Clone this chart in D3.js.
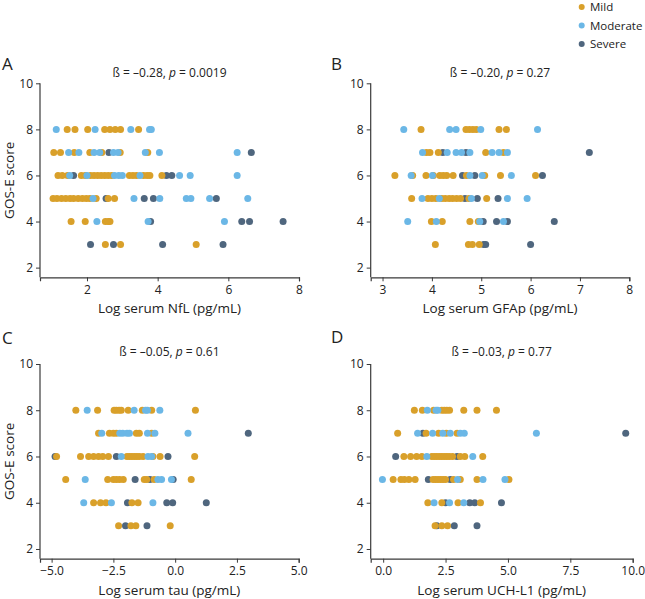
<!DOCTYPE html>
<html><head><meta charset="utf-8">
<script src="https://cdn.jsdelivr.net/npm/d3@7"></script>
<style>
body{margin:0;background:#fff;}
svg{font-family:"Open Sans","Noto Sans",sans-serif;}
</style></head>
<body><svg id="c" width="645" height="599"></svg>
<script>
// ---------- data: [log value, GOS-E score] ----------
const severities = ["Mild", "Moderate", "Severe"];
const sevColors = ["#D9A02A", "#6BB7E6", "#4F667E"];
const gosTicks = [2, 4, 6, 8, 10];

const nflMild = [[1.44,8],[1.66,8],[2.02,8],[2.5,8],[2.65,8],[2.8,8],[2.95,8],[3.46,8],
 [1.06,7],[1.25,7],[1.64,7],[2.08,7],[2.42,7],[2.94,7],[3.72,7],
 [1.18,6],[1.3,6],[1.45,6],[1.84,6],[1.95,6],[2.1,6],[2.2,6],[2.3,6],[2.4,6],[2.5,6],[2.6,6],[2.7,6],[3.2,6],[3.3,6],[3.4,6],[3.6,6],[3.7,6],[3.78,6],[4.12,6],
 [1.04,5],[1.15,5],[1.28,5],[1.4,5],[1.52,5],[1.62,5],[1.75,5],[1.87,5],[1.98,5],[2.08,5],[2.26,5],[2.6,5],[2.78,5],
 [1.55,4],[1.95,4],[2.52,4],[2.6,4],[2.65,4],
 [2.52,3],[2.95,3],[5.09,3]];
const nflModerate = [[1.13,8],[2.23,8],[3.24,8],[3.77,8],[3.82,8],
 [1.48,7],[1.77,7],[2.2,7],[2.36,7],[2.75,7],[2.88,7],[3.65,7],[4.05,7],[6.25,7],
 [1.51,6],[2.0,6],[2.78,6],[2.9,6],[3.0,6],[3.5,6],[4.62,6],[4.92,6],[6.25,6],
 [2.17,5],[3.33,5],[4.06,5],[4.81,5],[4.94,5],[5.47,5],[6.55,5],
 [2.28,4],[3.73,4],[5.89,4]];
const nflSevere = [[2.62,7],[6.65,7],[1.62,6],[4.25,6],[4.4,6],
 [2.54,5],[3.62,5],[3.88,5],[5.66,5],[3.8,4],[6.38,4],[6.6,4],[7.55,4],
 [2.1,3],[2.75,3],[4.14,3],[5.85,3]];

const gfapMild = [[3.78,8],[4.69,8],[4.76,8],[4.83,8],[4.9,8],[5.36,8],[5.51,8],
 [3.89,7],[3.96,7],[4.13,7],[5.09,7],[5.45,7],
 [3.25,6],[3.61,6],[3.88,6],[4.03,6],[4.16,6],[4.23,6],[4.3,6],[4.43,6],[4.7,6],[5.07,6],[5.39,6],[6.1,6],
 [3.59,5],[3.92,5],[4.0,5],[4.08,5],[4.2,5],[4.27,5],[4.35,5],[4.42,5],[4.5,5],[4.58,5],[4.75,5],[5.11,5],
 [3.99,4],[4.21,4],[4.77,4],[4.94,4],
 [4.07,3],[4.74,3],[4.82,3],[4.96,3]];
const gfapModerate = [[3.43,8],[4.36,8],[4.49,8],[4.99,8],[6.14,8],
 [3.81,7],[4.31,7],[4.49,7],[4.6,7],[4.77,7],[5.22,7],[5.36,7],[5.53,7],
 [3.58,6],[4.01,6],[4.77,6],[5.02,6],[5.61,6],
 [3.8,5],[4.15,5],[4.8,5],[5.53,5],[5.93,5],
 [3.51,4],[4.09,4],[4.97,4],[5.45,4]];
const gfapSevere = [[4.22,7],[4.69,7],[7.19,7],[4.62,6],[4.87,6],[6.24,6],
 [4.67,5],[4.92,5],[5.34,5],[5.04,4],[5.31,4],[5.53,4],[6.48,4],
 [5.05,3],[5.09,3],[6.0,3]];

const tauMild = [[-4.02,8],[-3.14,8],[-2.47,8],[-2.38,8],[-2.27,8],[-2.18,8],[-1.9,8],[-1.33,8],[-0.95,8],[0.82,8],
 [-3.1,7],[-2.66,7],[-2.5,7],[-2.38,7],[-1.57,7],[-1.45,7],[-0.95,7],
 [-4.8,6],[-3.83,6],[-3.5,6],[-3.3,6],[-3.1,6],[-2.93,6],[-2.7,6],[-1.95,6],[-1.85,6],[-1.75,6],[-1.65,6],[-1.55,6],[-1.45,6],[-1.3,6],[-0.9,6],[-0.61,6],[0.79,6],
 [-4.43,5],[-2.73,5],[-2.5,5],[-2.38,5],[-2.25,5],[-2.1,5],[-1.25,5],[-1.15,5],[-0.85,5],[0.65,5],
 [-3.3,4],[-3.02,4],[-2.8,4],[-1.75,4],[-1.5,4],
 [-2.29,3],[-1.79,3],[-1.59,3],[-0.2,3]];
const tauModerate = [[-3.56,8],[-1.66,8],[-1.2,8],[-1.12,8],[-0.62,8],
 [-2.97,7],[-2.24,7],[-2.12,7],[-1.95,7],[-1.85,7],[-1.12,7],[-0.82,7],[0.52,7],
 [-2.18,6],[-1.1,6],[-0.95,6],
 [-3.64,5],[-0.7,5],[-0.55,5],[-0.15,5],
 [-3.7,4],[-2.58,4],[-0.9,4]];
const tauSevere = [[2.96,7],[-4.86,6],[-2.38,6],[-0.29,6],[-1.62,5],[-1.02,5],[-0.08,5],
 [-1.93,4],[-0.34,4],[-0.1,4],[1.26,4],[-2.01,3],[-1.14,3]];

const uchMild = [[1.25,8],[1.57,8],[2.02,8],[2.35,8],[2.45,8],[2.55,8],[2.66,8],[3.23,8],[3.76,8],[4.54,8],
 [0.58,7],[1.72,7],[2.22,7],[2.53,7],[2.96,7],
 [0.83,6],[1.1,6],[1.34,6],[1.55,6],[1.95,6],[2.05,6],[2.15,6],[2.25,6],[2.35,6],[2.45,6],[2.55,6],[2.65,6],[2.78,6],[3.09,6],[3.27,6],[3.99,6],
 [0.4,5],[0.71,5],[0.85,5],[1.03,5],[1.28,5],[2.0,5],[2.1,5],[2.2,5],[2.3,5],[2.4,5],[2.5,5],[2.82,5],[3.09,5],[3.76,5],[5.04,5],
 [1.79,4],[2.35,4],[3.0,4],[3.9,4],
 [2.08,3],[2.35,3],[2.58,3]];
const uchModerate = [[1.77,8],[2.12,8],[2.19,8],
 [1.38,7],[1.98,7],[2.39,7],[2.69,7],[3.09,7],[3.25,7],[6.14,7],
 [1.75,6],[3.59,6],
 [-0.03,5],[2.98,5],[4.0,5],[4.88,5],
 [2.04,4],[2.66,4],[3.23,4]];
const uchSevere = [[1.59,7],[9.72,7],[0.5,6],[2.96,6],[1.81,5],[2.69,5],
 [2.5,4],[3.47,4],[3.67,4],[4.74,4],[2.15,3],[2.85,3],[3.76,3]];

const panelLetters = ["A", "B", "C", "D"];
const xLabels = ["Log serum NfL (pg/mL)", "Log serum GFAp (pg/mL)", "Log serum tau (pg/mL)", "Log serum UCH-L1 (pg/mL)"];
const betas = ["–0.28", "–0.20", "–0.05", "–0.03"];
const pValues = ["0.0019", "0.27", "0.61", "0.77"];
const xTicksA = [2, 4, 6, 8];
const xTicksB = [3, 4, 5, 6, 7, 8];
const xTicksC = [-5, -2.5, 0, 2.5, 5];
const xTicksD = [0, 2.5, 5, 7.5, 10];

// ---------- layout ----------
const svg = d3.select("#c");
const layouts = [
  {left: 40, right: 299, top: 83.3, bottom: 277.3, xDom: [0.67, 8], ticks: xTicksA, fmt: d3.format("d"), data: [nflMild, nflModerate, nflSevere], lx: 2, ly: 70, ty: 77},
  {left: 370.7, right: 629.3, top: 83.3, bottom: 277.3, xDom: [2.76, 8], ticks: xTicksB, fmt: d3.format("d"), data: [gfapMild, gfapModerate, gfapSevere], lx: 331, ly: 70, ty: 77},
  {left: 40, right: 298.7, top: 364, bottom: 558.7, xDom: [-5.47, 5], ticks: xTicksC, fmt: d3.format(".1f"), data: [tauMild, tauModerate, tauSevere], lx: 2, ly: 344, ty: 356},
  {left: 370.7, right: 632.7, top: 364, bottom: 558.7, xDom: [-0.5, 10], ticks: xTicksD, fmt: d3.format(".1f"), data: [uchMild, uchModerate, uchSevere], lx: 331, ly: 343, ty: 356}
];
const axisColor = "#3a3a3a";
const textColor = "#222";

layouts.forEach((L, i) => {
  const x = d3.scaleLinear().domain(L.xDom).range([L.left, L.right]);
  const y = d3.scaleLinear().domain([1.58, 10]).range([L.bottom, L.top]);
  const g = svg.append("g");

  const xa = g.append("g").attr("transform", `translate(0,${L.bottom})`)
    .call(d3.axisBottom(x).tickValues(L.ticks).tickFormat(L.fmt).tickSizeOuter(0).tickSize(4).tickPadding(4));
  const ya = g.append("g").attr("transform", `translate(${L.left},0)`)
    .call(d3.axisLeft(y).tickValues(gosTicks).tickSizeOuter(0).tickSize(4).tickPadding(3));
  [xa, ya].forEach(a => {
    a.select(".domain").attr("stroke", axisColor).attr("stroke-width", 1.2);
    a.selectAll(".tick line").attr("stroke", axisColor).attr("stroke-width", 1);
    a.selectAll(".tick text").attr("fill", textColor).style("font-size", "12px").style("font-family", "'Open Sans'");
  });
  ya.select(".domain").attr("d", `M0,${L.bottom}V${y(10)}`);

  [2, 0, 1].forEach(s => {
    g.append("g").selectAll("circle").data(L.data[s]).join("circle")
      .attr("cx", d => x(d[0])).attr("cy", d => y(d[1])).attr("r", 3.5)
      .attr("fill", sevColors[s]);
  });

  g.append("text").attr("x", (L.left + L.right) / 2).attr("y", L.bottom + 36)
    .attr("text-anchor", "middle").attr("fill", textColor).style("font-size", "13.5px")
    .text(xLabels[i]);
  if (i % 2 === 0) {
    g.append("text").attr("transform", `translate(${L.left - 26},${(L.top + L.bottom) / 2}) rotate(-90)`)
      .attr("text-anchor", "middle").attr("fill", textColor).style("font-size", "13.5px")
      .text("GOS-E score");
  }
  const t = g.append("text").attr("x", (L.left + L.right) / 2).attr("y", L.ty)
    .attr("text-anchor", "middle").attr("fill", textColor).style("font-size", "12px");
  t.append("tspan").text(`ß = ${betas[i]}, `);
  t.append("tspan").style("font-style", "italic").text("p");
  t.append("tspan").text(` = ${pValues[i]}`);
  g.append("text").attr("x", L.lx).attr("y", L.ly).attr("fill", textColor)
    .style("font-size", "17px").text(panelLetters[i]);
});

// legend
const leg = svg.append("g");
severities.forEach((s, k) => {
  const yy = 7 + k * 18.5;
  leg.append("circle").attr("cx", 581.7).attr("cy", yy).attr("r", 3).attr("fill", sevColors[k]);
  leg.append("text").attr("x", 590).attr("y", yy).attr("dy", "0.35em").attr("fill", textColor)
    .style("font-size", "11.5px").text(s);
});
</script></body></html>
